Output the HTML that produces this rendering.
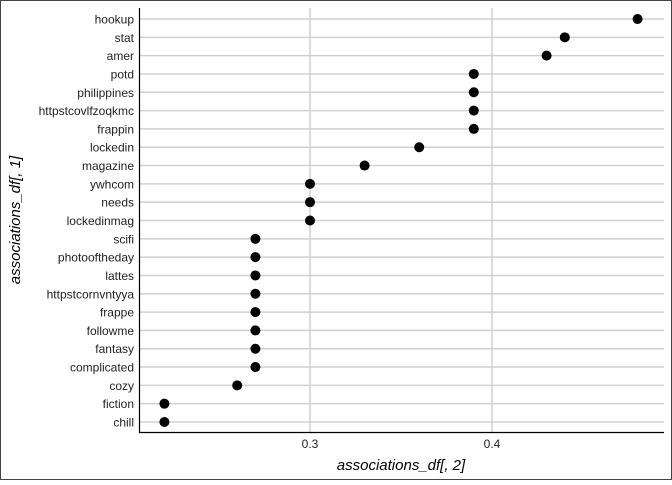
<!DOCTYPE html>
<html><head><meta charset="utf-8"><style>
body{margin:0;background:#fff}
svg text{font-family:"Liberation Sans",sans-serif}
</style></head><body>
<svg id="chart" width="672" height="480" xmlns="http://www.w3.org/2000/svg">
<rect x="0.5" y="0.5" width="671" height="479" fill="none" stroke="#444" stroke-width="1"/>
<g id="grid"></g><g id="dots"></g><g id="labels"></g>
<line x1="139.5" y1="8" x2="139.5" y2="433" stroke="#000" stroke-width="1.2"/>
<line x1="139" y1="432.5" x2="664" y2="432.5" stroke="#000" stroke-width="1.2"/>
<text x="401" y="470" font-size="15" font-style="italic" text-anchor="middle">associations_df[, 2]</text>
<text transform="translate(20,220) rotate(-90)" font-size="15" font-style="italic" text-anchor="middle">associations_df[, 1]</text>
</svg>
<script>
const categories=["hookup","stat","amer","potd","philippines","httpstcovlfzoqkmc","frappin","lockedin","magazine","ywhcom","needs","lockedinmag","scifi","photooftheday","lattes","httpstcornvntyya","frappe","followme","fantasy","complicated","cozy","fiction","chill"];
const values=[0.48,0.44,0.43,0.39,0.39,0.39,0.39,0.36,0.33,0.30,0.30,0.30,0.27,0.27,0.27,0.27,0.27,0.27,0.27,0.27,0.26,0.22,0.22];
const xTicks=[0.3,0.4];
const xTickLabels=["0.3","0.4"];
const NS="http://www.w3.org/2000/svg";
function x(v){return 310+(v-0.3)*1820;}
function y(i){return 19+i*(403/(categories.length-1));}
function mk(t,a,p){const e=document.createElementNS(NS,t);for(const k in a)e.setAttribute(k,a[k]);p.appendChild(e);return e;}
const grid=document.getElementById('grid'),dots=document.getElementById('dots'),labels=document.getElementById('labels');
xTicks.forEach((t,i)=>{
 const l=mk('line',{x1:x(t),x2:x(t),y1:8,y2:432,stroke:'#d0d0d0','stroke-width':1.5},grid);
 
 
 const tx=mk('text',{x:x(t),y:448,'font-size':12,'text-anchor':'middle',fill:'#222'},labels);
 tx.textContent=xTickLabels[i];
 
 
});
categories.forEach((c,i)=>{
 const l=mk('line',{x1:140,x2:664,y1:y(i),y2:y(i),stroke:'#d0d0d0','stroke-width':1.5},grid);
 
 
 const tx=mk('text',{x:134,y:y(i)+4.5,'font-size':12,'text-anchor':'end',fill:'#222'},labels);
 tx.textContent=c;
 
 
 const d=mk('circle',{cx:x(values[i]),cy:y(i),r:5,fill:'#000'},dots);
 
 
});
</script>
</body></html>
